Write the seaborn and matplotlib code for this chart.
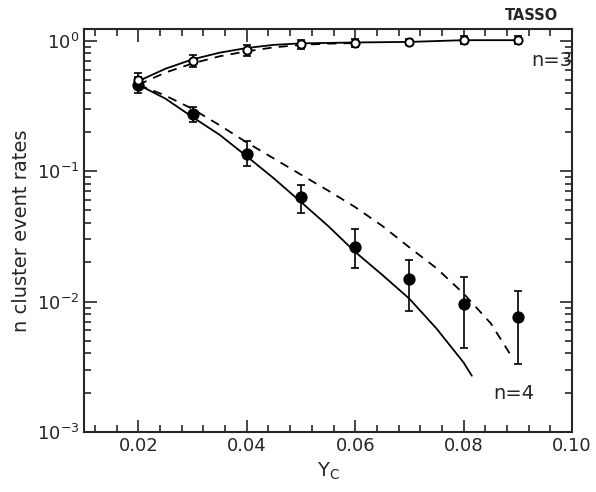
import numpy as np
import pandas as pd
import matplotlib
matplotlib.use('Agg')
import matplotlib.pyplot as plt
import matplotlib.ticker as mticker
import seaborn as sns

yc = [0.02, 0.03, 0.04, 0.05, 0.06, 0.07, 0.08, 0.09]
n3_rate = [0.50, 0.70, 0.85, 0.94, 0.965, 0.977, 1.02, 1.01]
n3_lo = [0.44, 0.63, 0.77, 0.87, 0.90, 0.92, 0.95, 0.94]
n3_hi = [0.57, 0.78, 0.93, 1.01, 1.04, 1.04, 1.09, 1.08]
n4_rate = [0.46, 0.275, 0.136, 0.063, 0.026, 0.015, 0.0095, 0.0076]
n4_lo = [0.40, 0.24, 0.11, 0.048, 0.018, 0.0084, 0.0044, 0.0033]
n4_hi = [0.53, 0.31, 0.17, 0.078, 0.036, 0.021, 0.0155, 0.012]

# model curves
n4_solid_x = [0.02, 0.025, 0.03, 0.035, 0.04, 0.045, 0.05, 0.055, 0.06, 0.065, 0.07, 0.075, 0.08, 0.0815]
n4_solid_y = [0.46, 0.36, 0.26, 0.19, 0.13, 0.088, 0.058, 0.038, 0.024, 0.016, 0.0105, 0.0062, 0.0034, 0.0027]
n4_dash_x = [0.02, 0.025, 0.03, 0.035, 0.04, 0.045, 0.05, 0.055, 0.06, 0.065, 0.07, 0.075, 0.08, 0.085, 0.089]
n4_dash_y = [0.46, 0.38, 0.30, 0.225, 0.166, 0.125, 0.094, 0.071, 0.053, 0.038, 0.026, 0.018, 0.0115, 0.0068, 0.0037]
n3_solid_x = [0.02, 0.025, 0.03, 0.035, 0.04, 0.045, 0.05, 0.06, 0.07, 0.08, 0.09]
n3_solid_y = [0.49, 0.61, 0.72, 0.81, 0.88, 0.93, 0.955, 0.97, 0.98, 1.01, 1.01]
n3_dash_x = [0.02, 0.025, 0.03, 0.035, 0.04, 0.045, 0.05, 0.055, 0.06]
n3_dash_y = [0.46, 0.57, 0.67, 0.76, 0.83, 0.89, 0.93, 0.95, 0.96]

sns.set_style('ticks')
plt.rcParams['font.family'] = ['DejaVu Sans']

fig = plt.figure(figsize=(5.96, 4.92), dpi=100)
ax = fig.add_axes([0.141, 0.122, 0.819, 0.819])

curves = [(n4_solid_x, n4_solid_y, '-'), (n4_dash_x, n4_dash_y, (0, (5, 4))),
          (n3_solid_x, n3_solid_y, '-'), (n3_dash_x, n3_dash_y, (0, (5, 4)))]
for cx, cy, ls in curves:
    sns.lineplot(x=cx, y=cy, ax=ax, color='black', lw=1.3, linestyle=ls, sort=False)

n4 = pd.DataFrame({'yc': yc, 'rate': n4_rate, 'lo': n4_lo, 'hi': n4_hi})
n3 = pd.DataFrame({'yc': yc, 'rate': n3_rate, 'lo': n3_lo, 'hi': n3_hi})
for d, face, size in [(n4, 'black', 55), (n3, 'white', 35)]:
    err = [d['rate'] - d['lo'], d['hi'] - d['rate']]
    ax.errorbar(d['yc'], d['rate'], yerr=err, fmt='none', ecolor='black',
                elinewidth=1.2, capsize=3, capthick=1.2, zorder=3)
    sns.scatterplot(data=d, x='yc', y='rate', ax=ax, color=face, edgecolor='black',
                    linewidth=1.4, s=size, zorder=4)

ax.set_yscale('log')
ax.set_xlim(0.01, 0.10)
ax.set_ylim(1e-3, 1.23)
ax.xaxis.set_major_locator(mticker.FixedLocator([0.02, 0.04, 0.06, 0.08, 0.10]))
ax.xaxis.set_major_formatter(mticker.FixedFormatter(['0.02', '0.04', '0.06', '0.08', '0.10']))
ax.xaxis.set_minor_locator(mticker.MultipleLocator(0.004))
ax.yaxis.set_major_locator(mticker.LogLocator(base=10, numticks=10))
ax.yaxis.set_minor_locator(mticker.LogLocator(base=10, subs=np.arange(2, 10), numticks=10))
ax.tick_params(which='both', direction='in', top=True, right=True, labelsize=13, width=1.2)
ax.tick_params(which='major', length=9)
ax.tick_params(which='minor', length=5)
for s in ax.spines.values():
    s.set_linewidth(1.5)

ax.set_xlabel(r'Y$_\mathregular{C}$', fontsize=14)
ax.set_ylabel('n cluster event rates', fontsize=14)
ax.text(0.0925, 0.64, 'n=3', fontsize=14)
ax.text(0.0855, 0.0018, 'n=4', fontsize=14)
ax.text(0.971, 1.015, 'TASSO', transform=ax.transAxes, ha='right', va='bottom',
        fontsize=10.5, fontweight='bold')

fig.savefig('out.png', dpi=100)
